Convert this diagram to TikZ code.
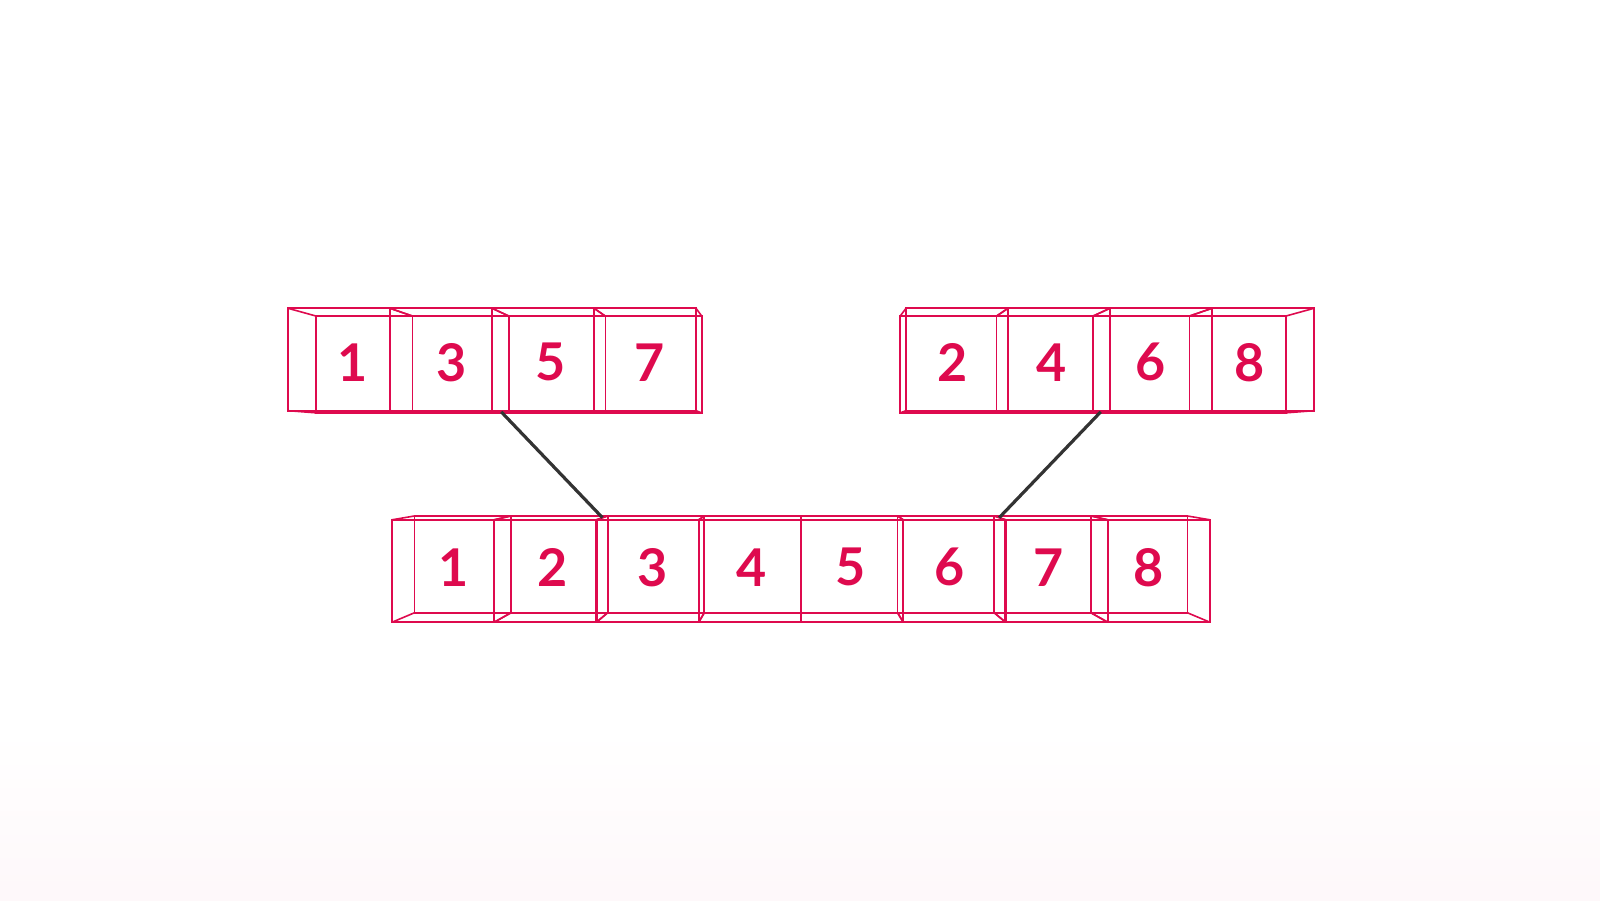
\documentclass[tikz,border=0pt]{standalone}
\usepackage{fontspec}
\setmainfont{Lato}
\usetikzlibrary{calc}
\definecolor{crimson}{RGB}{222,10,78}
\definecolor{wire}{RGB}{51,51,51}
\tikzset{
  face/.style={draw=crimson,line width=.45mm,minimum width=25.5mm,minimum height=25.6mm,inner sep=0pt,outer sep=0pt},
  edge/.style={draw=crimson,line width=.4mm},
  digit/.style={text=crimson,inner sep=0pt,font=\fontsize{37}{37}\selectfont\bfseries},
  link/.style={draw=wire,line width=.8mm}
}
% one wire cube: front face, back face toward (V), side edges, number
\newcommand{\wirecube}[3]{%
  \node[face] (#1) at (#2) {};
  \draw[edge] ($(V)!.945!(#1.north west)$) rectangle ($(V)!.945!(#1.south east)$);
  \foreach \c in {north west,north east,south west,south east}
    \draw[edge] (#1.\c) -- ($(V)!.945!(#1.\c)$);
  \node[digit] (#1n) at ($(V)!.97!(#1)$) {#3};
}
\begin{document}
\begin{tikzpicture}[x=.25mm,y=.25mm]
  \useasboundingbox (0,0) rectangle (1600,900);
  \shade[top color=white,bottom color=crimson!3] (0,0) rectangle (1600,170);
  \coordinate (V) at (800,450);
  % odd half, even half, merged row
  \foreach \n [count=\i from 0] in {1,3,5,7}
    \wirecube{l\n}{339+102*\i,540.5}{\n};
  \foreach \n [count=\i from 0] in {2,4,6,8}
    \wirecube{r\n}{957+102*\i,540.5}{\n};
  \foreach \n [count=\i from 0] in {1,...,8}
    \wirecube{b\n}{443.1+102.25*\i,329}{\n};
  % links
  \coordinate (lfoot) at ($(V)!.97!(l3.south east)$);
  \coordinate (rfoot) at ($(V)!.97!(r4.south east)$);
  \coordinate (bleft) at ($(V)!.97!(b2.north east)$);
  \coordinate (bright) at ($(V)!.97!(b6.north east)$);
  \draw[link] (lfoot) -- (bleft);
  \draw[link] (rfoot) -- (bright);
\end{tikzpicture}
\end{document}
